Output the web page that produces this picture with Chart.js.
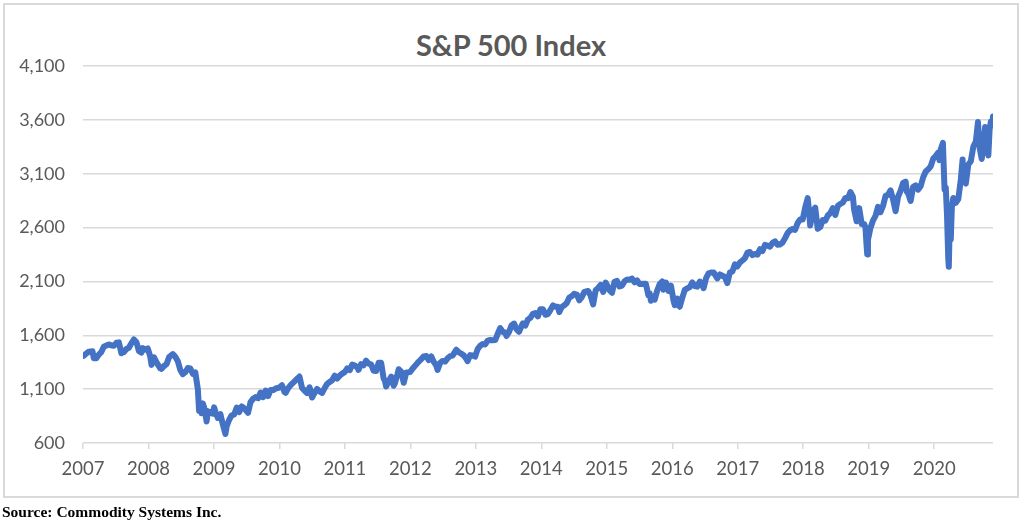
<!DOCTYPE html>
<html>
<head>
<meta charset="utf-8">
<script src="https://cdn.jsdelivr.net/npm/chart.js@4/dist/chart.umd.min.js"></script>
<style>
  html, body { margin: 0; padding: 0; background: #fff; }
  #wrap { position: relative; width: 1024px; height: 526px; }
  #box { position: absolute; left: 3px; top: 3px; width: 1012px; height: 491px; border: 2px solid #d9d9d9; }
  #chart { position: absolute; left: 0; top: 0; }
  #title { position: absolute; left: 3px; width: 1016px; top: 27px; text-align: center; font: bold 29px Lato, sans-serif; line-height: 36px; color: #595959; }
  #source { position: absolute; left: 2px; top: 503px; font: bold 15.5px "Liberation Serif", "Times New Roman", serif; color: #000; }
</style>
</head>
<body>
<div id="wrap">
  <div id="box"></div>
  <div id="title">S&amp;P 500 Index</div>
  <canvas id="chart" width="1024" height="526"></canvas>
  <div id="source">Source: Commodity Systems Inc.</div>
</div>
<script>
// weekly-ish closes
const dates = [
  '2007-01-05','2007-01-19','2007-02-02','2007-02-23','2007-03-02','2007-03-16','2007-03-30','2007-04-13','2007-04-27','2007-05-11','2007-05-25','2007-06-08','2007-06-22','2007-07-06','2007-07-20','2007-08-03','2007-08-10','2007-08-17','2007-08-31','2007-09-14','2007-09-28','2007-10-12','2007-10-26','2007-11-09','2007-11-23','2007-11-30','2007-12-14','2007-12-28',
  '2008-01-11','2008-01-18','2008-02-01','2008-02-15','2008-03-07','2008-03-14','2008-03-28','2008-04-11','2008-04-25','2008-05-16','2008-05-30','2008-06-13','2008-06-27','2008-07-11','2008-07-25','2008-08-08','2008-08-22','2008-09-05','2008-09-19','2008-10-03','2008-10-10','2008-10-17','2008-10-24','2008-10-31','2008-11-07','2008-11-14','2008-11-21','2008-11-28','2008-12-12','2008-12-26',
  '2009-01-02','2009-01-09','2009-01-23','2009-02-06','2009-02-20','2009-03-06','2009-03-13','2009-03-27','2009-04-09','2009-04-24','2009-05-08','2009-05-22','2009-06-05','2009-06-19','2009-07-10','2009-07-24','2009-08-07','2009-08-21','2009-09-04','2009-09-18','2009-10-02','2009-10-16','2009-10-30','2009-11-13','2009-11-27','2009-12-11','2009-12-31',
  '2010-01-15','2010-01-29','2010-02-05','2010-02-19','2010-03-05','2010-03-19','2010-04-09','2010-04-23','2010-05-07','2010-05-21','2010-06-04','2010-06-18','2010-07-02','2010-07-16','2010-07-30','2010-08-13','2010-08-27','2010-09-10','2010-09-24','2010-10-08','2010-10-22','2010-11-05','2010-11-19','2010-12-03','2010-12-17','2010-12-31',
  '2011-01-14','2011-01-28','2011-02-11','2011-02-25','2011-03-11','2011-03-18','2011-04-01','2011-04-15','2011-04-29','2011-05-13','2011-05-27','2011-06-10','2011-06-24','2011-07-08','2011-07-22','2011-08-05','2011-08-12','2011-08-19','2011-09-02','2011-09-16','2011-09-30','2011-10-07','2011-10-21','2011-10-28','2011-11-11','2011-11-25','2011-12-09','2011-12-30',
  '2012-01-13','2012-01-27','2012-02-10','2012-02-24','2012-03-16','2012-03-30','2012-04-13','2012-04-27','2012-05-11','2012-05-25','2012-06-01','2012-06-15','2012-06-29','2012-07-13','2012-07-27','2012-08-10','2012-08-24','2012-09-14','2012-09-28','2012-10-12','2012-10-26','2012-11-09','2012-11-16','2012-11-30','2012-12-14','2012-12-28',
  '2013-01-11','2013-01-25','2013-02-08','2013-02-22','2013-03-08','2013-03-22','2013-04-05','2013-04-19','2013-05-03','2013-05-17','2013-05-31','2013-06-14','2013-06-21','2013-07-05','2013-07-19','2013-08-02','2013-08-16','2013-08-30','2013-09-13','2013-09-20','2013-10-04','2013-10-18','2013-11-01','2013-11-15','2013-11-29','2013-12-13','2013-12-27',
  '2014-01-10','2014-01-24','2014-02-07','2014-02-21','2014-03-07','2014-03-21','2014-04-04','2014-04-11','2014-04-25','2014-05-09','2014-05-23','2014-06-06','2014-06-20','2014-07-03','2014-07-18','2014-08-01','2014-08-15','2014-08-29','2014-09-19','2014-10-03','2014-10-17','2014-10-31','2014-11-14','2014-11-28','2014-12-12','2014-12-26',
  '2015-01-09','2015-01-16','2015-01-30','2015-02-13','2015-02-27','2015-03-13','2015-03-27','2015-04-10','2015-04-24','2015-05-08','2015-05-22','2015-06-05','2015-06-19','2015-07-02','2015-07-10','2015-07-24','2015-08-07','2015-08-21','2015-08-28','2015-09-04','2015-09-18','2015-09-25','2015-10-09','2015-10-23','2015-11-06','2015-11-13','2015-11-27','2015-12-11','2015-12-25',
  '2016-01-08','2016-01-15','2016-01-29','2016-02-05','2016-02-12','2016-02-26','2016-03-11','2016-03-25','2016-04-08','2016-04-22','2016-05-06','2016-05-20','2016-06-03','2016-06-17','2016-06-24','2016-07-08','2016-07-22','2016-08-05','2016-08-19','2016-09-09','2016-09-23','2016-10-07','2016-10-21','2016-11-04','2016-11-18','2016-12-02','2016-12-16','2016-12-30',
  '2017-01-13','2017-01-27','2017-02-10','2017-02-24','2017-03-10','2017-03-24','2017-04-07','2017-04-21','2017-05-05','2017-05-19','2017-06-02','2017-06-16','2017-06-30','2017-07-14','2017-07-28','2017-08-11','2017-08-25','2017-09-08','2017-09-22','2017-10-06','2017-10-20','2017-11-03','2017-11-17','2017-12-01','2017-12-15','2017-12-29',
  '2018-01-12','2018-01-26','2018-02-02','2018-02-09','2018-02-23','2018-03-09','2018-03-23','2018-04-06','2018-04-20','2018-05-04','2018-05-18','2018-06-01','2018-06-15','2018-06-29','2018-07-13','2018-07-27','2018-08-10','2018-08-24','2018-09-07','2018-09-21','2018-10-05','2018-10-12','2018-10-26','2018-11-09','2018-11-23','2018-12-07','2018-12-14','2018-12-21','2018-12-24','2018-12-28',
  '2019-01-11','2019-01-25','2019-02-08','2019-02-22','2019-03-08','2019-03-22','2019-04-05','2019-04-19','2019-05-03','2019-05-17','2019-05-31','2019-06-14','2019-06-28','2019-07-12','2019-07-26','2019-08-02','2019-08-09','2019-08-23','2019-09-06','2019-09-20','2019-10-04','2019-10-18','2019-11-01','2019-11-15','2019-11-29','2019-12-13','2019-12-27',
  '2020-01-10','2020-01-24','2020-01-31','2020-02-07','2020-02-19','2020-02-28','2020-03-06','2020-03-13','2020-03-20','2020-03-23','2020-03-27','2020-04-03','2020-04-09','2020-04-17','2020-05-01','2020-05-15','2020-05-29','2020-06-08','2020-06-12','2020-06-26','2020-07-10','2020-07-24','2020-08-07','2020-08-21','2020-09-02','2020-09-11','2020-09-23','2020-10-02','2020-10-12','2020-10-30','2020-11-06','2020-11-13','2020-11-20','2020-11-25'
];

const closes = [
  1410,1430,1448,1451,1387,1386,1421,1444,1494,1505,1515,1507,1502,1530,1534,1433,1453,1445,1473,1484,1527,1561,1535,1453,1440,1481,1467,1478,
  1401,1325,1395,1349,1293,1288,1315,1332,1397,1425,1400,1360,1278,1239,1257,1296,1292,1242,1255,1099,899,940,876,968,930,873,800,896,879,872,
  931,890,832,868,770,683,756,816,856,866,929,887,940,921,880,979,1010,1026,1016,1068,1025,1087,1036,1093,1091,1106,1115,
  1136,1074,1066,1109,1138,1160,1194,1217,1111,1087,1064,1117,1022,1065,1102,1079,1065,1110,1149,1166,1183,1225,1199,1225,1244,1258,
  1293,1276,1329,1320,1304,1279,1332,1320,1364,1338,1331,1271,1268,1344,1346,1199,1179,1124,1174,1216,1131,1155,1238,1285,1263,1159,1255,1258,
  1289,1316,1343,1366,1404,1408,1370,1403,1353,1318,1278,1343,1362,1356,1386,1406,1411,1466,1441,1429,1412,1380,1360,1416,1413,1402,
  1472,1503,1518,1515,1551,1556,1553,1555,1614,1667,1631,1626,1593,1632,1692,1709,1655,1633,1688,1710,1691,1745,1762,1798,1806,1775,1841,
  1842,1790,1797,1836,1878,1866,1865,1815,1863,1878,1900,1950,1963,1985,1978,1925,1955,2003,2011,1968,1886,2018,2039,2068,2003,2089,
  2045,2019,1995,2097,2105,2053,2061,2102,2117,2116,2126,2092,2110,2077,2077,2079,2078,1971,1989,1921,1958,1931,2015,2075,2100,2023,2090,2012,2061,
  1922,1880,1940,1880,1865,1948,2022,2036,2048,2092,2057,2052,2099,2071,2037,2130,2175,2183,2184,2128,2165,2153,2141,2085,2182,2192,2258,2239,
  2275,2295,2316,2367,2373,2344,2355,2349,2399,2382,2439,2433,2423,2459,2472,2441,2443,2461,2502,2549,2575,2587,2579,2642,2676,2674,
  2786,2873,2762,2620,2747,2786,2588,2604,2670,2663,2712,2735,2780,2718,2801,2819,2833,2875,2872,2930,2886,2767,2658,2781,2633,2633,2600,2417,2351,2486,
  2596,2665,2708,2793,2743,2801,2893,2905,2946,2860,2752,2887,2942,3014,3026,2932,2919,2847,2979,2992,2952,2986,3067,3120,3141,3169,3240,
  3265,3295,3226,3328,3386,2954,2972,2711,2305,2237,2541,2489,2790,2875,2830,2864,3044,3232,3041,3009,3185,3216,3351,3397,3580,3341,3237,3348,3534,3270,3509,3585,3557,3630
];

const yearTicks = [2007, 2008, 2009, 2010, 2011, 2012, 2013, 2014, 2015, 2016, 2017, 2018, 2019, 2020];
const valueTicks = [600, 1100, 1600, 2100, 2600, 3100, 3600, 4100];

function toYear(s) {
    const [y, m, d] = s.split('-').map(Number);
    const start = Date.UTC(y, 0, 1);
    return y + (Date.UTC(y, m - 1, d) - start) / (Date.UTC(y + 1, 0, 1) - start);
}

const points = dates.map((d, i) => ({ x: toYear(d), y: closes[i] }));
const gray = '#595959';
const grid = '#d9d9d9';

new Chart(document.getElementById('chart').getContext('2d'), {
    type: 'line',
    data: {
        datasets: [{
            label: 'S&P 500 Index',
            data: points,
            borderColor: '#4472C4',
            borderWidth: 6,
            pointRadius: 0,
            tension: 0,
            borderJoinStyle: 'round',
            borderCapStyle: 'round'
        }]
    },
    options: {
        responsive: false,
        animation: false,
        // title sits in the html above, so the top padding leaves room for it
        layout: { padding: { left: 10, right: 31, top: 66, bottom: 33 } },
        plugins: {
            legend: { display: false },
            tooltip: { enabled: false },
            title: { display: false }
        },
        scales: {
            x: {
                type: 'linear',
                min: yearTicks[0],
                max: points[points.length - 1].x,
                afterBuildTicks: s => { s.ticks = yearTicks.map(v => ({ value: v })); },
                afterFit: s => { s.height = 50; },
                ticks: {
                    autoSkip: false,
                    maxRotation: 0,
                    color: gray,
                    padding: 9,
                    font: { family: 'Lato', size: 18.5 },
                    callback: v => String(v)
                },
                grid: { drawOnChartArea: false, drawTicks: true, tickLength: 6, color: grid, lineWidth: 1.5 },
                border: { display: false }
            },
            y: {
                min: 600,
                max: 4100,
                afterBuildTicks: s => { s.ticks = valueTicks.map(v => ({ value: v })); },
                afterFit: s => { s.width = 73; },
                ticks: {
                    color: gray,
                    padding: 18,
                    font: { family: 'Lato', size: 18 },
                    callback: v => v.toLocaleString('en-US')
                },
                grid: { color: grid, lineWidth: 1.5, drawTicks: false },
                border: { display: false }
            }
        }
    }
});
</script>
</body>
</html>
